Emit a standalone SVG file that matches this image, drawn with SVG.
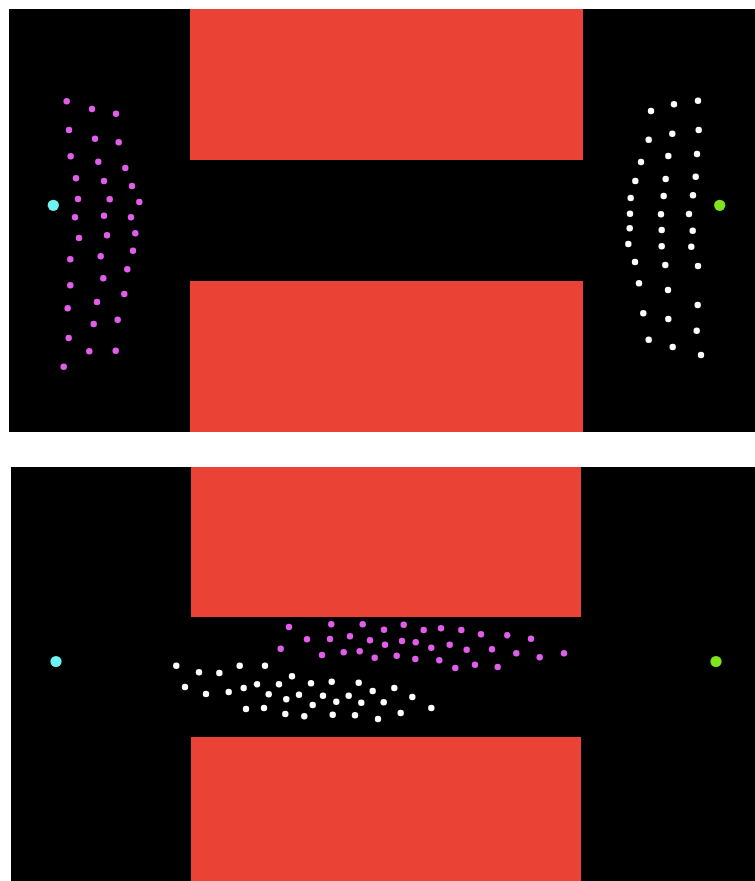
<svg xmlns="http://www.w3.org/2000/svg" width="755" height="881" viewBox="0 0 755 881">
<style>
.bg{fill:#000}
.wall{fill:#EA4335}
.m{fill:#E35DEB}
.w{fill:#fff}
.c{fill:#6FF3F0}
.g{fill:#7EE51C}
</style>
<defs>
<circle id="d" r="3.2"/>
<circle id="D" r="5.6"/>
</defs>
<rect width="755" height="881" fill="#fff"/>
<g id="top-panel">
<rect class="bg" x="9" y="9" width="746" height="423"/>
<rect class="wall" x="190" y="9" width="393" height="151"/>
<rect class="wall" x="190" y="281" width="393" height="151"/>
<use href="#D" class="c" x="53.3" y="205.3"/>
<use href="#D" class="g" x="719.7" y="205.3"/>
<g id="top-magenta" class="m">
<use href="#d" x="66.7" y="101.3"/><use href="#d" x="92" y="109"/><use href="#d" x="116" y="113.7"/>
<use href="#d" x="69" y="130"/><use href="#d" x="95" y="138.7"/><use href="#d" x="118.7" y="142.3"/>
<use href="#d" x="70.7" y="156.3"/><use href="#d" x="98.3" y="161.7"/><use href="#d" x="125.3" y="168"/>
<use href="#d" x="76" y="178.3"/><use href="#d" x="104" y="181"/><use href="#d" x="132" y="186"/>
<use href="#d" x="78" y="199"/><use href="#d" x="109.7" y="199.3"/><use href="#d" x="139.3" y="202"/>
<use href="#d" x="75" y="217.3"/><use href="#d" x="104" y="215.7"/><use href="#d" x="131" y="217.3"/>
<use href="#d" x="79" y="238"/><use href="#d" x="107" y="235.3"/><use href="#d" x="135.3" y="233.3"/>
<use href="#d" x="133" y="250.7"/><use href="#d" x="70.3" y="259.3"/><use href="#d" x="100.7" y="256.3"/>
<use href="#d" x="127.3" y="269.3"/><use href="#d" x="103.3" y="278.3"/><use href="#d" x="70.3" y="285.3"/>
<use href="#d" x="124.3" y="294"/><use href="#d" x="67.7" y="308.3"/><use href="#d" x="97" y="302"/>
<use href="#d" x="117.7" y="319.7"/><use href="#d" x="93.7" y="324"/><use href="#d" x="68.7" y="338"/>
<use href="#d" x="89.3" y="351.3"/><use href="#d" x="115.7" y="350.7"/><use href="#d" x="63.7" y="366.7"/>
</g>
<g id="top-white" class="w">
<use href="#d" x="698" y="100.7"/><use href="#d" x="674" y="104.3"/><use href="#d" x="651" y="111"/>
<use href="#d" x="698.7" y="130"/><use href="#d" x="672.3" y="133.7"/><use href="#d" x="648.7" y="139.7"/>
<use href="#d" x="697" y="154"/><use href="#d" x="668.3" y="156"/><use href="#d" x="641" y="162"/>
<use href="#d" x="695.7" y="176.7"/><use href="#d" x="665.7" y="179"/><use href="#d" x="635.3" y="181"/>
<use href="#d" x="693" y="195.3"/><use href="#d" x="663.7" y="196"/><use href="#d" x="630.7" y="198"/>
<use href="#d" x="689" y="214"/><use href="#d" x="661" y="214.3"/><use href="#d" x="630" y="213.7"/>
<use href="#d" x="629.7" y="228.3"/><use href="#d" x="661.7" y="230"/><use href="#d" x="692.7" y="230.7"/>
<use href="#d" x="628.3" y="244"/><use href="#d" x="661.7" y="246.3"/><use href="#d" x="691.3" y="246.7"/>
<use href="#d" x="635" y="262"/><use href="#d" x="665.3" y="265"/><use href="#d" x="698" y="266"/>
<use href="#d" x="639" y="283.3"/><use href="#d" x="668" y="290"/><use href="#d" x="697.7" y="305"/>
<use href="#d" x="643.3" y="313.3"/><use href="#d" x="668.3" y="319"/><use href="#d" x="696.7" y="330.7"/>
<use href="#d" x="648.7" y="339.7"/><use href="#d" x="672.7" y="347"/><use href="#d" x="701" y="355"/>
</g>
</g>
<g id="bottom-panel">
<rect class="bg" x="11" y="467" width="744" height="414"/>
<rect class="wall" x="191" y="467" width="390" height="150"/>
<rect class="wall" x="191" y="737" width="390" height="144"/>
<use href="#D" class="c" x="56" y="661.5"/>
<use href="#D" class="g" x="716" y="661.5"/>
<g id="bottom-magenta" class="m">
<use href="#d" x="289" y="627"/><use href="#d" x="331.3" y="624.3"/><use href="#d" x="362.7" y="624.3"/>
<use href="#d" x="403.7" y="624.7"/><use href="#d" x="384" y="629.7"/><use href="#d" x="307" y="639.3"/>
<use href="#d" x="330" y="639"/><use href="#d" x="350" y="636.3"/><use href="#d" x="370" y="640.3"/>
<use href="#d" x="385" y="644.7"/><use href="#d" x="402" y="641"/><use href="#d" x="415.7" y="642.3"/>
<use href="#d" x="280.7" y="648.7"/><use href="#d" x="322" y="655"/><use href="#d" x="343.7" y="652.3"/>
<use href="#d" x="359.7" y="651.3"/><use href="#d" x="374.7" y="657.7"/><use href="#d" x="396.7" y="655.7"/>
<use href="#d" x="415.3" y="659"/><use href="#d" x="423.7" y="630"/><use href="#d" x="441" y="628.3"/>
<use href="#d" x="461.3" y="630"/><use href="#d" x="481" y="634.3"/><use href="#d" x="507.3" y="635.3"/>
<use href="#d" x="531" y="638.7"/><use href="#d" x="431.3" y="647.7"/><use href="#d" x="449.7" y="644.7"/>
<use href="#d" x="466.7" y="649.7"/><use href="#d" x="492" y="649.3"/><use href="#d" x="516.3" y="653.3"/>
<use href="#d" x="539.7" y="657.3"/><use href="#d" x="564" y="653.3"/><use href="#d" x="439.3" y="660.3"/>
<use href="#d" x="455.3" y="668"/><use href="#d" x="475" y="664.7"/><use href="#d" x="497.7" y="667"/>
</g>
<g id="bottom-white" class="w">
<use href="#d" x="176.3" y="665.7"/><use href="#d" x="199" y="672.3"/><use href="#d" x="219.3" y="673"/>
<use href="#d" x="239.7" y="665.7"/><use href="#d" x="265" y="665.7"/><use href="#d" x="292" y="676.3"/>
<use href="#d" x="185" y="687"/><use href="#d" x="206" y="694"/><use href="#d" x="228.7" y="692"/>
<use href="#d" x="243.7" y="688"/><use href="#d" x="257" y="684.3"/><use href="#d" x="279" y="684.3"/>
<use href="#d" x="268.7" y="694.3"/><use href="#d" x="286.3" y="699.3"/><use href="#d" x="299" y="694.7"/>
<use href="#d" x="246" y="709"/><use href="#d" x="264" y="708"/><use href="#d" x="285.3" y="714"/>
<use href="#d" x="311" y="683.3"/><use href="#d" x="331.7" y="681.7"/><use href="#d" x="358.7" y="682.7"/>
<use href="#d" x="394.3" y="688"/><use href="#d" x="323" y="695.7"/><use href="#d" x="348.7" y="695.7"/>
<use href="#d" x="372.7" y="691"/><use href="#d" x="412.3" y="697"/><use href="#d" x="312.7" y="705"/>
<use href="#d" x="336.3" y="701.7"/><use href="#d" x="361.3" y="702.7"/><use href="#d" x="383.7" y="702.3"/>
<use href="#d" x="431.3" y="708"/><use href="#d" x="304.3" y="716.3"/><use href="#d" x="332.7" y="714.7"/>
<use href="#d" x="355" y="715.3"/><use href="#d" x="400.7" y="713"/><use href="#d" x="378" y="719"/>
</g>
</g>
</svg>
